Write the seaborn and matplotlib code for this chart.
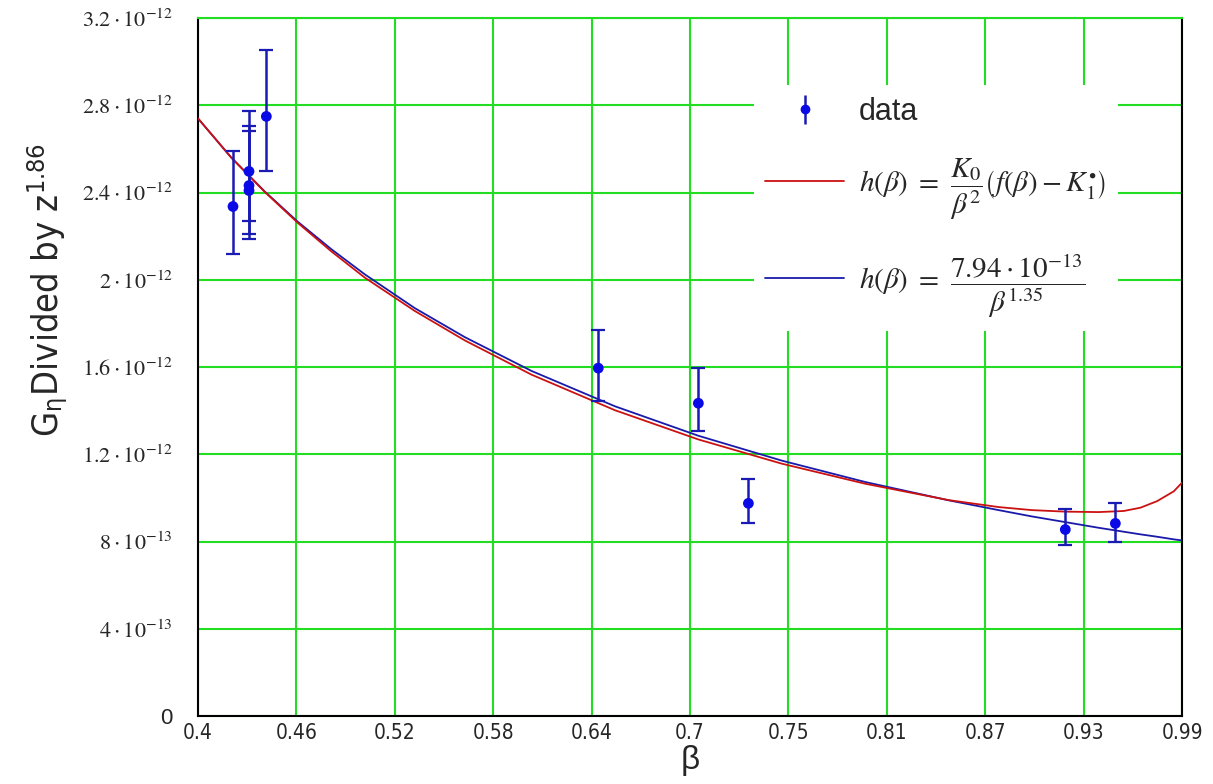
import numpy as np
import pandas as pd
import matplotlib
matplotlib.use("Agg")
import matplotlib.pyplot as plt
import seaborn as sns

# measured points (beta, value and bar ends, in units of 1e-12)
beta_pts = [0.421, 0.4306, 0.4306, 0.4306, 0.441, 0.640, 0.700, 0.730, 0.920, 0.950]
g_pts = [2.336, 2.497, 2.432, 2.409, 2.749, 1.595, 1.434, 0.975, 0.855, 0.883]
g_low = [2.120, 2.271, 2.211, 2.189, 2.501, 1.444, 1.306, 0.883, 0.782, 0.800]
g_high = [2.589, 2.772, 2.703, 2.680, 3.053, 1.770, 1.595, 1.085, 0.947, 0.975]

# fitted curves (units of 1e-12)
beta_fit = [0.40, 0.42, 0.44, 0.46, 0.48, 0.50, 0.53, 0.56, 0.60, 0.65, 0.70, 0.75,
            0.80, 0.85, 0.88, 0.90, 0.92, 0.94, 0.955, 0.965, 0.975, 0.985, 0.99]
h_power = [2.74, 2.56, 2.405, 2.265, 2.14, 2.025, 1.87, 1.737, 1.582, 1.42, 1.285, 1.171,
           1.073, 0.989, 0.944, 0.915, 0.889, 0.863, 0.845, 0.833, 0.822, 0.810, 0.805]
h_model = [2.74, 2.56, 2.403, 2.26, 2.13, 2.01, 1.857, 1.722, 1.565, 1.402, 1.268, 1.157,
           1.065, 0.990, 0.958, 0.944, 0.937, 0.935, 0.940, 0.955, 0.985, 1.03, 1.07]

x_ticks = [0.4, 0.459, 0.518, 0.577, 0.636, 0.695, 0.754, 0.813, 0.872, 0.931, 0.99]
x_labels = ["0.4", "0.46", "0.52", "0.58", "0.64", "0.7", "0.75", "0.81", "0.87", "0.93", "0.99"]
y_ticks = [0, 0.4, 0.8, 1.2, 1.6, 2.0, 2.4, 2.8, 3.2]
y_labels = ["0", r"$4\cdot10^{-13}$", r"$8\cdot10^{-13}$", r"$1.2\cdot10^{-12}$",
            r"$1.6\cdot10^{-12}$", r"$2\cdot10^{-12}$", r"$2.4\cdot10^{-12}$",
            r"$2.8\cdot10^{-12}$", r"$3.2\cdot10^{-12}$"]

scale = 1e-12
pts = pd.DataFrame({"beta": beta_pts, "g": np.array(g_pts) * scale})
fit = pd.DataFrame({"beta": beta_fit,
                    "power": np.array(h_power) * scale,
                    "model": np.array(h_model) * scale})

sns.set_style("white")
plt.rcParams["font.family"] = ["Liberation Sans", "DejaVu Sans"]
plt.rcParams["mathtext.fontset"] = "stix"

fig = plt.figure(figsize=(12.13, 7.84), dpi=100)
ax = fig.add_axes([0.1632, 0.0867, 0.8113, 0.8903])

green = "#22dd22"
ax.set_axisbelow(True)
ax.grid(True, color=green, linewidth=1.5)

sns.lineplot(data=fit, x="beta", y="power", color="#1a1aaa", linewidth=1.3,
             label="power", ax=ax, zorder=3)
sns.lineplot(data=fit, x="beta", y="model", color="#cc1111", linewidth=1.3,
             label="model", ax=ax, zorder=3)

yerr = [np.array(g_pts) * scale - np.array(g_low) * scale,
        np.array(g_high) * scale - np.array(g_pts) * scale]
ax.errorbar(pts["beta"], pts["g"], yerr=yerr, fmt="none", ecolor="#1a1ab4",
            elinewidth=1.8, capsize=5, capthick=1.6, zorder=4)
sns.scatterplot(data=pts, x="beta", y="g", color="#0a0ae6", s=60, edgecolor="none",
                ax=ax, zorder=5)
eb_leg = ax.errorbar([], [], yerr=[], fmt="o", color="#0a0ae6", ecolor="#1a1ab4",
                     ms=6, elinewidth=1.8, capsize=5, capthick=1.6)

ax.set_xlim(0.4, 0.99)
ax.set_ylim(0, 3.2e-12)
ax.set_xticks(x_ticks)
ax.set_xticklabels(x_labels, fontsize=15, family="DejaVu Sans", fontstretch="condensed")
ax.set_yticks([v * scale for v in y_ticks])
ax.set_yticklabels(y_labels, fontsize=16)
ax.tick_params(axis="y", length=0, pad=18)
ax.tick_params(axis="x", length=0, pad=5)

for s in ["left", "bottom", "right"]:
    ax.spines[s].set_color("black")
    ax.spines[s].set_linewidth(1.5)
ax.spines["top"].set_color(green)
ax.spines["top"].set_linewidth(1.5)

ax.set_xlabel(r"$\mathregular{\beta}$", fontsize=24, labelpad=0)
ax.set_ylabel(r"G$_{\mathregular{\eta}}$Divided by z$^{\mathregular{1.86}}$",
              fontsize=26, family="DejaVu Sans", fontstretch="condensed")
ax.yaxis.set_label_coords(-0.13, 0.61)

lines = ax.get_lines()
line_power = [l for l in lines if l.get_label() == "power"][0]
line_model = [l for l in lines if l.get_label() == "model"][0]
leg = ax.legend(
    [eb_leg, line_model, line_power],
    ["data",
     r"$h(\beta)\ =\ \dfrac{K_0}{\beta^2}\left(f(\beta) - K_1^{\bullet}\right)$",
     r"$h(\beta)\ =\ \dfrac{7.94\cdot10^{-13}}{\beta^{1.35}}$"],
    loc="upper left", bbox_to_anchor=(0.55, 0.925), fontsize=21,
    frameon=True, facecolor="white", edgecolor="none", framealpha=1,
    handlelength=2.7, handletextpad=0.5, labelspacing=1.0, borderpad=0.4)
leg.get_texts()[0].set_fontsize(22)

fig.savefig("out.png", dpi=100, facecolor="white")
